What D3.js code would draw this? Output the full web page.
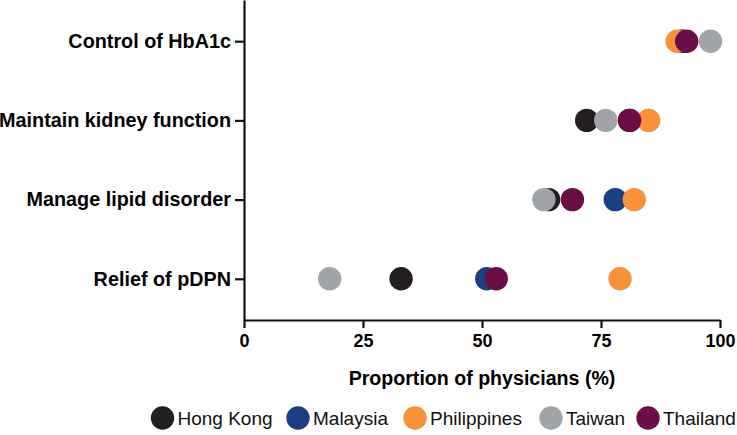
<!DOCTYPE html>
<html>
<head>
<meta charset="utf-8">
<script src="https://cdn.jsdelivr.net/npm/d3@7"></script>
<style>
  html, body { margin: 0; padding: 0; background: #fff; }
  svg { display: block; font-family: "Liberation Sans", Arial, sans-serif; }
</style>
</head>
<body>
<svg id="chart" width="737" height="435"></svg>
<script>
const categories = ["Control of HbA1c", "Maintain kidney function", "Manage lipid disorder", "Relief of pDPN"];
const countries = ["Hong Kong", "Malaysia", "Philippines", "Taiwan", "Thailand"];
const colors = ["#231f20", "#1b3f7f", "#f7923a", "#a1a4a7", "#690f46"];
// values per country, in category order
const hongKong    = [92, 72, 64, 33];
const malaysia    = [92, 81, 78, 51];
const philippines = [91, 85, 82, 79];
const taiwan      = [98, 76, 63, 18];
const thailand    = [93, 81, 69, 53];
const xTicks = [0, 25, 50, 75, 100];

const seriesValues = [hongKong, malaysia, philippines, taiwan, thailand];

const svg = d3.select("#chart");
const mLeft = 244, mRight = 720, mTop = 0, mBottom = 320;

const x = d3.scaleLinear().domain([0, 100]).range([mLeft, mRight]);
const y = d3.scalePoint().domain(categories).range([mTop, mBottom]).padding(0.52);
const color = d3.scaleOrdinal().domain(countries).range(colors);

// dots
countries.forEach((c, i) => {
  svg.append("g").selectAll("circle")
    .data(categories.map((cat, j) => ({cat, v: seriesValues[i][j]})))
    .join("circle")
    .attr("cx", d => x(d.v))
    .attr("cy", d => y(d.cat))
    .attr("r", 11.7)
    .attr("fill", color(c));
});

// x axis
const xAxis = svg.append("g")
  .attr("transform", `translate(0,${mBottom})`)
  .call(d3.axisBottom(x).tickValues(xTicks).tickSize(8).tickSizeOuter(0).tickPadding(6));
xAxis.select(".domain").attr("stroke", "#111").attr("stroke-width", 2.2);
xAxis.selectAll(".tick line").attr("stroke", "#111").attr("stroke-width", 2.2);
xAxis.selectAll(".tick text").attr("font-size", 18).attr("font-weight", "bold").attr("fill", "#000")
  .attr("font-family", "Liberation Sans, Arial, sans-serif");

// y axis
const yAxis = svg.append("g")
  .attr("transform", `translate(${mLeft},0)`)
  .call(d3.axisLeft(y).tickSize(9).tickSizeOuter(0).tickPadding(4));
yAxis.select(".domain").attr("stroke", "#111").attr("stroke-width", 2.2);
yAxis.selectAll(".tick line").attr("stroke", "#111").attr("stroke-width", 2.2);
yAxis.selectAll(".tick text").attr("font-size", 19.8).attr("font-weight", "bold").attr("fill", "#000")
  .attr("font-family", "Liberation Sans, Arial, sans-serif");

// x axis title
svg.append("text")
  .attr("x", (mLeft + mRight) / 2)
  .attr("y", 385)
  .attr("text-anchor", "middle")
  .attr("font-size", 19.6)
  .attr("font-weight", "bold")
  .text("Proportion of physicians (%)");

// legend
const legendCircleX = [162.5, 298, 415, 551, 648];
const legend = svg.append("g").selectAll("g")
  .data(countries)
  .join("g")
  .attr("transform", (d, i) => `translate(${legendCircleX[i]},418)`);
legend.append("circle").attr("r", 11.7).attr("fill", d => color(d));
legend.append("text")
  .attr("x", 15)
  .attr("dy", "0.36em")
  .attr("font-size", 19)
  .attr("fill", "#111")
  .text(d => d);
</script>
</body>
</html>
